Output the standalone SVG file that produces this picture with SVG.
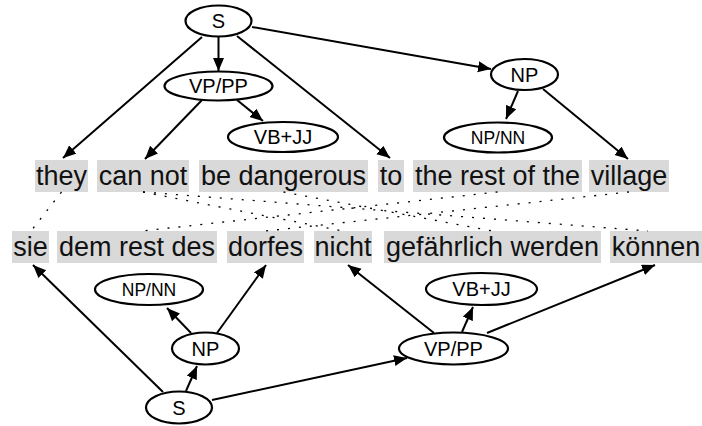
<svg xmlns="http://www.w3.org/2000/svg" width="702" height="426" viewBox="0 0 702 426">
<style>
.node ellipse{fill:#fff;stroke:#000;stroke-width:2.2}
.node text{font-family:"Liberation Sans",Arial,sans-serif;font-size:20px;fill:#000;text-anchor:middle}
.node text.sm{font-size:17.5px}
.word rect{fill:#d9d9d9}
.word text{font-family:"Liberation Sans",Arial,sans-serif;font-size:27px;fill:#111;text-anchor:middle}
.edge{stroke:#000;stroke-width:2;fill:none;marker-end:url(#arr)}
.align{stroke:#000;stroke-width:1.3;fill:none;stroke-dasharray:2 9}
</style>
<defs>
<marker id="arr" markerUnits="userSpaceOnUse" markerWidth="14" markerHeight="12" refX="13" refY="5.5" orient="auto">
<path d="M0,0 L13,5.5 L0,11 z" fill="#000"/>
</marker>
</defs>
<rect width="702" height="426" fill="#fff"/>
<g id="words-top">
<g class="word" id="w-they"><rect x="35" y="160" width="53" height="32"/><text x="61.5" y="185">they</text></g>
<g class="word" id="w-cannot"><rect x="97" y="160" width="92" height="32"/><text x="143" y="185">can not</text></g>
<g class="word" id="w-bedangerous"><rect x="199" y="160" width="169" height="32"/><text x="283.5" y="185">be dangerous</text></g>
<g class="word" id="w-to"><rect x="378" y="160" width="26" height="32"/><text x="391" y="185">to</text></g>
<g class="word" id="w-therestofthe"><rect x="413" y="160" width="169" height="32"/><text x="497.5" y="185">the rest of the</text></g>
<g class="word" id="w-village"><rect x="589" y="160" width="80" height="32"/><text x="629" y="185">village</text></g>
</g>
<g id="words-bottom">
<g class="word" id="w-sie"><rect x="12" y="231" width="37" height="32"/><text x="30.5" y="256">sie</text></g>
<g class="word" id="w-demrestdes"><rect x="57" y="231" width="160" height="32"/><text x="137" y="256">dem rest des</text></g>
<g class="word" id="w-dorfes"><rect x="227" y="231" width="77" height="32"/><text x="265.5" y="256">dorfes</text></g>
<g class="word" id="w-nicht"><rect x="314" y="231" width="58" height="32"/><text x="343" y="256">nicht</text></g>
<g class="word" id="w-gefaehrlich"><rect x="384" y="231" width="217" height="32"/><text x="492.5" y="256">gefährlich werden</text></g>
<g class="word" id="w-koennen"><rect x="610" y="231" width="92" height="32"/><text x="656" y="256">können</text></g>
</g>
<g id="connectors">
<line class="align" x1="61.5" y1="192" x2="31" y2="231"/>
<line class="align" x1="143" y1="192" x2="343" y2="231"/>
<line class="align" x1="143" y1="192" x2="648" y2="231"/>
<line class="align" x1="283.5" y1="192" x2="492.5" y2="231"/>
<line class="align" x1="497.5" y1="192" x2="142" y2="231"/>
<line class="align" x1="629" y1="192" x2="265.5" y2="231"/>
<line class="edge" x1="202" y1="37" x2="63" y2="158"/>
<line class="edge" x1="218.5" y1="37" x2="218.5" y2="71"/>
<line class="edge" x1="237" y1="36" x2="390" y2="158"/>
<line class="edge" x1="252" y1="27" x2="491" y2="69"/>
<line class="edge" x1="202" y1="100" x2="145" y2="159"/>
<line class="edge" x1="237" y1="100" x2="263" y2="121"/>
<line class="edge" x1="518" y1="91" x2="506" y2="119"/>
<line class="edge" x1="543" y1="89" x2="628" y2="159"/>
<line class="edge" x1="163" y1="392" x2="33" y2="265"/>
<line class="edge" x1="186" y1="391" x2="197" y2="366"/>
<line class="edge" x1="212" y1="400" x2="407" y2="358"/>
<line class="edge" x1="191" y1="333" x2="167" y2="308"/>
<line class="edge" x1="217" y1="333" x2="266" y2="265"/>
<line class="edge" x1="434" y1="333" x2="348" y2="265"/>
<line class="edge" x1="462" y1="332" x2="473" y2="307"/>
<line class="edge" x1="487" y1="333" x2="655" y2="265"/>
</g>
<g class="node" id="n-top-S"><ellipse cx="218.5" cy="21" rx="33" ry="15.5"/><text x="218.5" y="28">S</text></g>
<g class="node" id="n-top-VPPP"><ellipse cx="218.5" cy="86" rx="54" ry="14.5"/><text x="218.5" y="93">VP/PP</text></g>
<g class="node" id="n-top-VBJJ"><ellipse cx="283" cy="137" rx="55" ry="15"/><text x="283" y="144">VB+JJ</text></g>
<g class="node" id="n-top-NP"><ellipse cx="524.5" cy="74.5" rx="33.5" ry="15.5"/><text x="524.5" y="81.5">NP</text></g>
<g class="node" id="n-top-NPNN"><ellipse cx="498" cy="137.5" rx="54" ry="15"/><text class="sm" x="498" y="144">NP/NN</text></g>
<g class="node" id="n-bot-NPNN"><ellipse cx="149" cy="289.5" rx="54" ry="15.5"/><text class="sm" x="149" y="296">NP/NN</text></g>
<g class="node" id="n-bot-NP"><ellipse cx="205.5" cy="348.5" rx="33.5" ry="16"/><text x="205.5" y="355.5">NP</text></g>
<g class="node" id="n-bot-S"><ellipse cx="179" cy="407.5" rx="33" ry="16"/><text x="179" y="414.5">S</text></g>
<g class="node" id="n-bot-VBJJ"><ellipse cx="481.5" cy="289" rx="55.5" ry="16"/><text x="481.5" y="296">VB+JJ</text></g>
<g class="node" id="n-bot-VPPP"><ellipse cx="453.5" cy="348.5" rx="54.5" ry="16"/><text x="453.5" y="355.5">VP/PP</text></g>
</svg>
